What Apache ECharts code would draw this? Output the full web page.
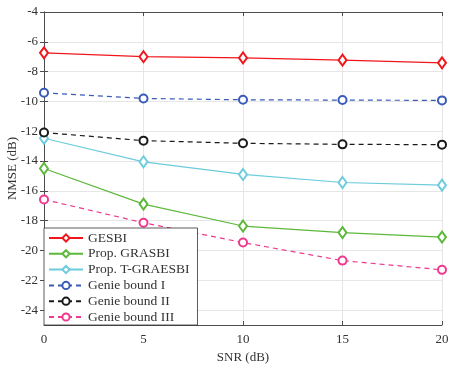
<!DOCTYPE html>
<html>
<head>
<meta charset="utf-8">
<script src="https://cdn.jsdelivr.net/npm/echarts@6/dist/echarts.min.js"></script>
<style>
html, body { margin: 0; padding: 0; background: #fff; }
#chart { width: 457px; height: 369px; }
</style>
</head>
<body>
<div id="chart"></div>
<script>
// SNR (dB)
var snr = [0, 5, 10, 15, 20];
// NMSE (dB) per curve
var gesbi = [-6.74, -7.0, -7.08, -7.23, -7.41];
var grasbi = [-14.5, -16.89, -18.36, -18.8, -19.1];
var tGraesbi = [-12.47, -14.05, -14.9, -15.44, -15.62];
var genie1 = [-9.42, -9.8, -9.89, -9.91, -9.93];
var genie2 = [-12.09, -12.63, -12.81, -12.88, -12.9];
var genie3 = [-16.58, -18.14, -19.47, -20.68, -21.3];
var yTicks = [-24, -22, -20, -18, -16, -14, -12, -10, -8, -6, -4];
var xTicks = [0, 5, 10, 15, 20];

var serif = '"Liberation Serif", "DejaVu Serif", serif';

function pairs(arr) {
  return snr.map(function (x, i) { return [x, arr[i]]; });
}

function mkSeries(name, data, color, symbol, dashed) {
  return {
    name: name,
    type: 'line',
    data: pairs(data),
    symbol: symbol,
    symbolSize: symbol == 'emptyDiamond' ? [8, 11] : 8,
    lineStyle: { color: color, width: 1.2, type: dashed ? [5, 4] : 'solid' },
    itemStyle: { color: color, borderWidth: 1.2 },
    emphasis: { disabled: true },
    animation: false
  };
}

var myChart = echarts.init(document.getElementById('chart'));
var axisLine = { show: true, lineStyle: { color: '#4d4d4d', width: 1 } };

myChart.setOption({
  grid: { left: 44, right: 15, top: 12, bottom: 44, outerBoundsMode: 'none', containLabel: false },
  legend: {
    orient: 'vertical',
    left: 44,
    top: 228,
    padding: [3, 8, 1, 4],
    itemWidth: 34,
    itemHeight: 9,
    itemGap: 1.8,
    backgroundColor: '#fff',
    borderColor: '#333',
    borderWidth: 0.8,
    borderRadius: 0,
    textStyle: { fontFamily: serif, fontSize: 13.5, color: '#333', lineHeight: 13 },
    data: ['GESBI', 'Prop. GRASBI', 'Prop. T-GRAESBI', 'Genie bound I', 'Genie bound II', 'Genie bound III']
  },
  xAxis: [{
    type: 'value',
    min: 0, max: 20,
    name: 'SNR (dB)',
    nameLocation: 'middle',
    nameGap: 26,
    nameMoveOverlap: false,
    nameTextStyle: { fontFamily: serif, fontSize: 13, color: '#333' },
    axisLine: axisLine,
    axisTick: { inside: true, length: 4, customValues: xTicks, lineStyle: { color: '#4d4d4d' } },
    axisLabel: { customValues: xTicks, fontFamily: serif, fontSize: 13, color: '#333', margin: 8 },
    splitLine: { show: true, lineStyle: { color: '#e6e6e6', width: 1 } }
  }, {
    type: 'value',
    position: 'top',
    min: 0, max: 20,
    axisLine: axisLine,
    axisTick: { inside: true, length: 4, customValues: xTicks, lineStyle: { color: '#4d4d4d' } },
    axisLabel: { show: false },
    splitLine: { show: false }
  }],
  yAxis: [{
    type: 'value',
    min: -25, max: -4,
    name: 'NMSE (dB)',
    nameLocation: 'middle',
    nameGap: 25,
    nameMoveOverlap: false,
    nameTextStyle: { fontFamily: serif, fontSize: 13, color: '#333' },
    axisLine: axisLine,
    axisTick: { inside: true, length: 4, customValues: yTicks, lineStyle: { color: '#4d4d4d' } },
    axisLabel: { customValues: yTicks, fontFamily: serif, fontSize: 13, color: '#333', margin: 6 },
    splitLine: { show: true, lineStyle: { color: '#e6e6e6', width: 1 } }
  }, {
    type: 'value',
    position: 'right',
    min: -25, max: -4,
    axisLine: axisLine,
    axisTick: { inside: true, length: 4, customValues: yTicks, lineStyle: { color: '#4d4d4d' } },
    axisLabel: { show: false },
    splitLine: { show: false }
  }],
  series: [
    mkSeries('GESBI', gesbi, '#f0161c', 'emptyDiamond', false),
    mkSeries('Prop. GRASBI', grasbi, '#5cb83a', 'emptyDiamond', false),
    mkSeries('Prop. T-GRAESBI', tGraesbi, '#6ccbdc', 'emptyDiamond', false),
    mkSeries('Genie bound I', genie1, '#3a5bb8', 'emptyCircle', true),
    mkSeries('Genie bound II', genie2, '#1a1a1a', 'emptyCircle', true),
    mkSeries('Genie bound III', genie3, '#ee3a8f', 'emptyCircle', true)
  ]
});
</script>
</body>
</html>
